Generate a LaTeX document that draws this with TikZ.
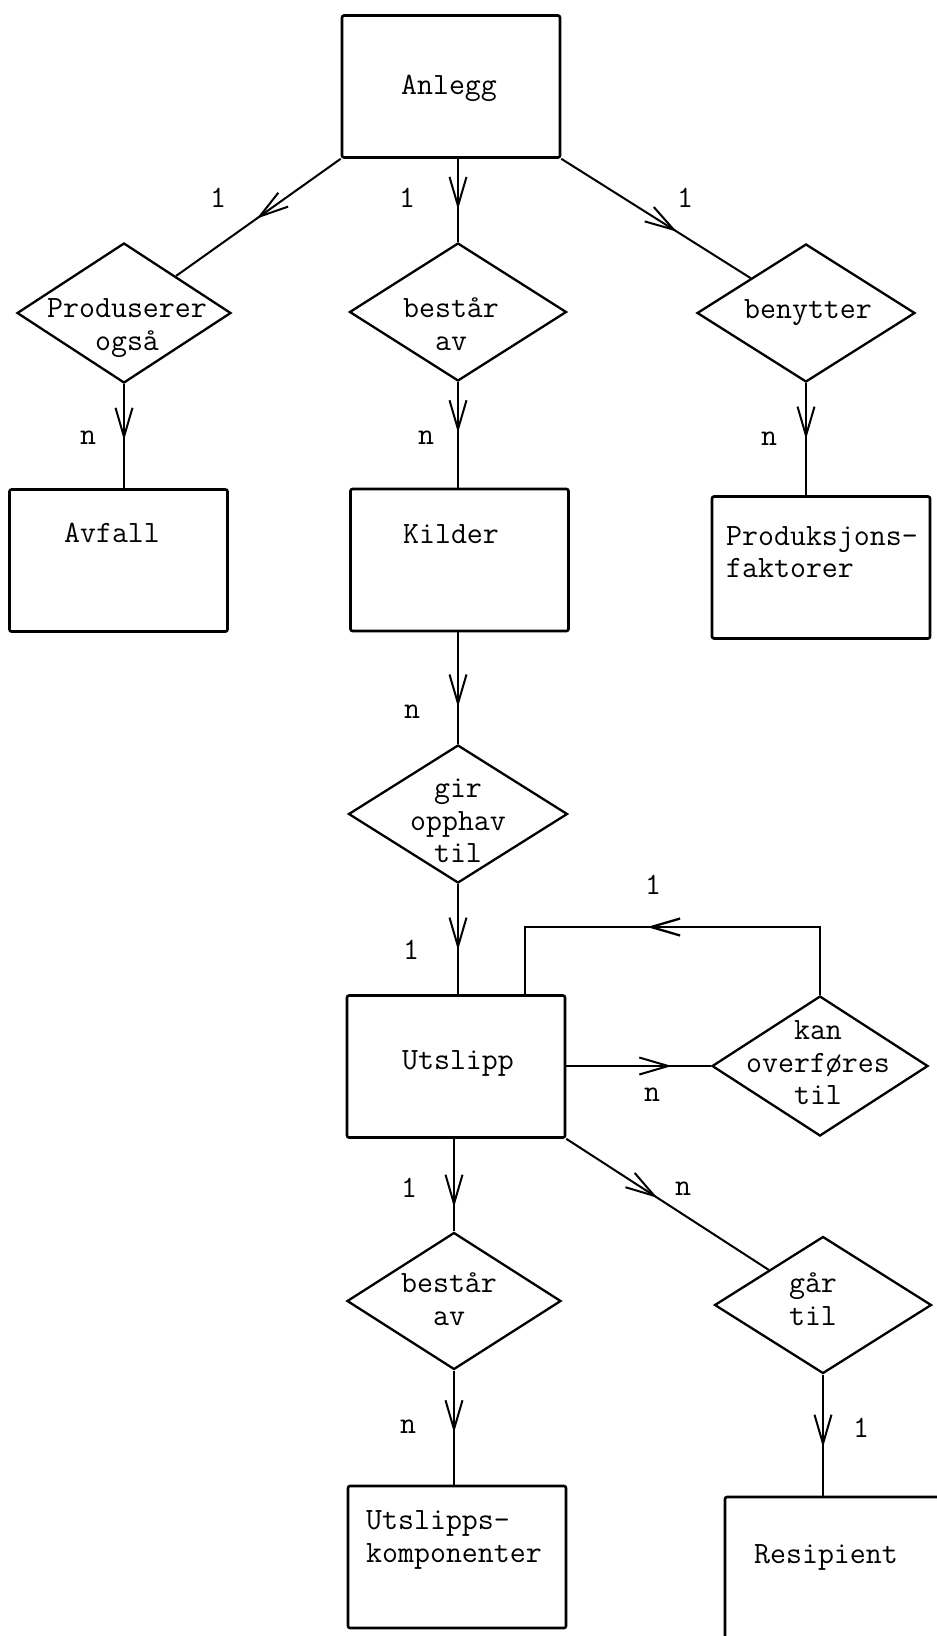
\documentclass[tikz,border=0pt]{standalone}
\usepackage{fontspec}
\usetikzlibrary{shapes.geometric,arrows.meta,decorations.markings}
\begin{document}
\begin{tikzpicture}[x=1pt,y=-1pt,
  box/.style={draw, line width=2.6pt, rectangle, rounded corners=2pt, minimum width=218pt, minimum height=142pt, inner sep=0pt},
  rel/.style={draw, line width=2.3pt, diamond, minimum width=217pt, minimum height=138pt, inner sep=0pt},
  txt/.style={font=\fontsize{31}{32.5}\selectfont\ttfamily, inner sep=0pt, align=center},
  ltxt/.style={font=\fontsize{31}{32.5}\selectfont\ttfamily, inner sep=0pt, align=left, anchor=west},
  lbl/.style={font=\fontsize{31}{32.5}\selectfont\ttfamily, inner sep=0pt},
  conn/.style={line width=2pt},
  arr/.style={postaction={decorate}, decoration={markings, mark=at position #1 with {\arrow{Straight Barb[length=29pt,width=17pt]}}}},
]
\useasboundingbox (0,0) rectangle (937,1636);
\fill[white] (0,0) rectangle (937,1636);
\clip (0,0) rectangle (937,1636);

% entity boxes
\node[box] (anlegg) at (451,86.5) {};
\node[box] (avfall) at (118.5,560.5) {};
\node[box] (kilder) at (459.5,560) {};
\node[box] (prodfakt) at (821,567.5) {};
\node[box] (utslipp) at (456,1066.5) {};
\node[box] (komp) at (457,1557) {};
\node[box] (resip) at (834,1568) {};

% relationship diamonds
\node[rel, minimum width=214pt, minimum height=140pt] (prod) at (124,313) {};
\node[rel] (bestaar1) at (458,312) {};
\node[rel, minimum width=218pt] (benytter) at (806,313) {};
\node[rel, minimum width=219pt] (gir) at (458,814) {};
\node[rel, minimum width=216pt, minimum height=140pt] (kan) at (820,1066) {};
\node[rel, minimum width=214pt, minimum height=137pt] (bestaar2) at (454,1301) {};
\node[rel, minimum height=137pt] (gaar) at (823,1305) {};

% texts
\node[txt] (anlegg-t) at (449,88) {Anlegg};
\node[txt] (avfall-t) at (112,533) {Avfall};
\node[txt] (kilder-t) at (451,534) {Kilder};
\node[ltxt] (prodfakt-t) at (726,552) {Produksjons-\\faktorer};
\node[txt] (utslipp-t) at (458,1063) {Utslipp};
\node[ltxt] (komp-t) at (366,1540) {Utslipps-\\komponenter};
\node[txt] (resip-t) at (826,1557) {Resipient};
\node[txt] (prod-t) at (127,328) {Produserer\\også};
\node[txt] (bestaar1-t) at (451,324) {består\\av};
\node[txt] (benytter-t) at (808,313) {benytter};
\node[txt] (gir-t) at (458,821) {gir\\opphav\\til};
\node[txt] (kan-t) at (818,1063) {kan\\overføres\\til};
\node[txt] (bestaar2-t) at (449,1299) {består\\av};
\node[txt] (gaar-t) at (813,1299) {går\\til};

% connectors
\draw[conn, arr=0.51] (anlegg.south west) -- (prod);
\draw[conn, arr=0.61] (anlegg.south -| bestaar1.north) -- (bestaar1.north);
\draw[conn, arr=0.61] (anlegg.south east) -- (benytter);
\draw[conn, arr=0.54] (prod.south) -- (prod.south |- avfall.north);
\draw[conn, arr=0.48] (bestaar1.south) -- (bestaar1.south |- kilder.north);
\draw[conn, arr=0.50] (benytter.south) -- (benytter.south |- prodfakt.north);
\draw[conn, arr=0.67] (gir.north |- kilder.south) -- (gir.north);
\draw[conn, arr=0.60] (gir.south) -- (gir.south |- utslipp.north);
\draw[conn, arr=0.73] (utslipp.east |- kan.west) -- (kan.west);
\coordinate (loopR) at (820,927);
\coordinate (loopL) at (525,927);
\draw[conn, line width=2.3pt, arr=0.56] (kan.north) -- (loopR) -- (loopL) -- (loopL |- utslipp.north);
\draw[conn, arr=0.74] (utslipp.south -| bestaar2.north) -- (bestaar2.north);
\draw[conn, arr=0.45] (utslipp.south east) -- (gaar);
\draw[conn, arr=0.545] (bestaar2.south) -- (bestaar2.south |- komp.north);
\draw[conn, arr=0.60] (gaar.south) -- (gaar.south |- resip.north);

% cardinality labels
\node[lbl] (c1) at (218,198) {1};
\node[lbl] (c2) at (407,198) {1};
\node[lbl] (c3) at (685,198) {1};
\node[lbl] (c4) at (88,438) {n};
\node[lbl] (c5) at (426,438) {n};
\node[lbl] (c6) at (769,439) {n};
\node[lbl] (c7) at (412,712) {n};
\node[lbl] (c8) at (411,950) {1};
\node[lbl] (c9) at (653,885) {1};
\node[lbl] (c10) at (652,1095) {n};
\node[lbl] (c11) at (409,1188) {1};
\node[lbl] (c12) at (683,1189) {n};
\node[lbl] (c13) at (408,1427) {n};
\node[lbl] (c14) at (861,1428) {1};
\end{tikzpicture}
\end{document}
